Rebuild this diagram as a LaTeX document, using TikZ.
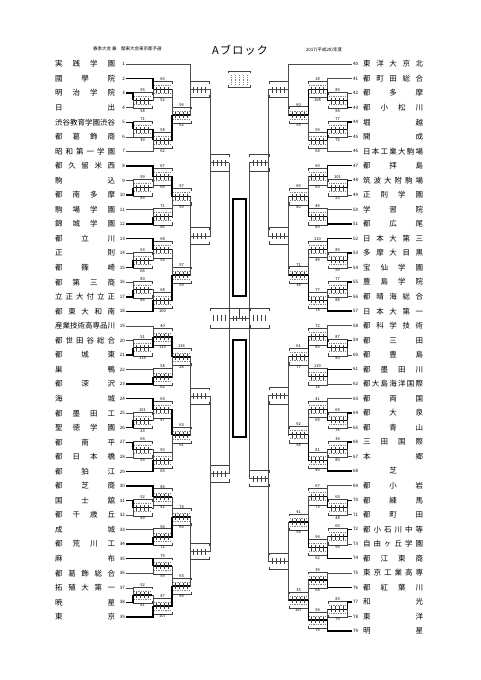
\documentclass[tikz,border=0pt]{standalone}
\usepackage{fontspec}
\setmainfont{Noto Sans CJK JP}
\usetikzlibrary{calc,positioning}

% spread the characters of a school name over a fixed width
\def\spreadloop#1{\ifx#1\relax\else\hfill#1\expandafter\spreadloop\fi}
\def\spreadfirst#1{#1\spreadloop}
\newcommand\spreadname[1]{\makebox[60pt][s]{\expandafter\spreadfirst#1\relax}}

% one score box: name, position, upper number, lower number, played (0/1/2)
\newcommand\gamebox[5]{%
  \node[game] (#1) at (#2) {};
  \draw[boxline] ([yshift=-2.5pt]#1.north west) -- (#1.north west) -- (#1.north east) -- ([yshift=-2.5pt]#1.north east);
  \draw[boxline] ([yshift=2.5pt]#1.south west) -- (#1.south west) -- (#1.south east) -- ([yshift=2.5pt]#1.south east);
  \ifnum#5>0
    \draw[win] (#1.west) -- (#1.east);
    \draw[scoredots] ([shift={(1.5pt,4pt)}]#1.west) -- ([shift={(-1.5pt,4pt)}]#1.east);
    \draw[scoredots] ([shift={(1.5pt,-4pt)}]#1.west) -- ([shift={(-1.5pt,-4pt)}]#1.east);
  \else
    \draw[link] (#1.west) -- (#1.east);
  \fi
  \foreach \k in {0.2,0.4,0.6,0.8}
    \draw[boxline] ($(#1.south west)!\k!(#1.south east)+(0,5pt)$) -- ++(0,6pt);
  \node[gnum, above=0pt of #1] (#1t) {#3};
  \node[gnum, below=0pt of #1] (#1b) {#4};
}
% left side game: name, x of box centre, entrant 1, entrant 2, numbers, winner
\newcommand\lgame[7]{%
  \coordinate (#1m) at ($(#3.east)!.5!(#4.east)$);
  \gamebox{#1}{#2,0 |- #1m}{#5}{#6}{#7}
  \tikzset{ea/.style={link},eb/.style={link}}%
  \ifnum#7=1 \tikzset{ea/.style={win}}\fi
  \ifnum#7=2 \tikzset{eb/.style={win}}\fi
  \draw[ea] (#3.east) -| (#1.west);
  \draw[eb] (#4.east) -| (#1.west);
}
% right side game
\newcommand\rgame[7]{%
  \coordinate (#1m) at ($(#3.west)!.5!(#4.west)$);
  \gamebox{#1}{#2,0 |- #1m}{#5}{#6}{#7}
  \tikzset{ea/.style={link},eb/.style={link}}%
  \ifnum#7=1 \tikzset{ea/.style={win}}\fi
  \ifnum#7=2 \tikzset{eb/.style={win}}\fi
  \draw[ea] (#3.west) -| (#1.east);
  \draw[eb] (#4.west) -| (#1.east);
}

\begin{document}
\begin{tikzpicture}[x=1pt,y=-1pt,
  tname/.style={anchor=west,inner sep=0pt,font=\fontsize{7.5}{8}\selectfont},
  tnum/.style={inner sep=1pt,font=\fontsize{4.5}{5}\selectfont},
  game/.style={rectangle,minimum width=19pt,minimum height=16pt,inner sep=0pt},
  boxline/.style={line width=.4pt,black!75},
  scoredots/.style={gray,line width=.6pt,dash pattern=on .6pt off 1.1pt},
  gnum/.style={inner sep=.4pt,font=\fontsize{4}{4}\selectfont},
  link/.style={line width=.5pt,black!70},
  win/.style={line width=1.4pt},
  tiny/.style={inner sep=0pt,font=\fontsize{4.5}{5}\selectfont}
]
\useasboundingbox (0,0) rectangle (481,680);

% titles
\node[tiny, anchor=west] (subtitle) at (93,49) {春季大会 兼\quad 関東大会東京都予選};
\node[inner sep=0pt, font=\fontsize{11}{12}\selectfont] (block) at (240,50)
  {\makebox[56pt][s]{A\hfill ブ\hfill ロ\hfill ッ\hfill ク}};
\node[tiny] (year) at (324,50) {2017(平成29)年度};

% left teams
\foreach \i/\nm in {1/実践学園,2/國學院,3/明治学院,4/日出,5/渋谷教育学園渋谷,6/都葛飾商,
  7/昭和第一学園,8/都久留米西,9/駒込,10/都南多摩,11/駒場学園,12/錦城学園,13/都立川,
  14/正則,15/都篠崎,16/都第三商,17/立正大付立正,18/都東大和南,19/産業技術高専品川,
  20/都世田谷総合,21/都城東,22/巣鴨,23/都深沢,24/海城,25/都墨田工,26/聖徳学園,
  27/都南平,28/都日本橋,29/都狛江,30/都芝商,31/国士舘,32/都千歳丘,33/成城,
  34/都荒川工,35/麻布,36/都葛飾総合,37/拓殖大第一,38/暁星,39/東京}{
  \node[tname] (L\i) at (55,{64+(\i-1)*14.55}) {\spreadname{\nm}};
  \node[tnum, anchor=east] (n\i) at (126,{64+(\i-1)*14.55}) {\i};
}
% right teams
\foreach \i/\nm in {40/東洋大京北,41/都町田総合,42/都多摩,43/都小松川,44/堀越,45/開成,
  46/日本工業大駒場,47/都拝島,48/筑波大附駒場,49/正則学園,50/学習院,51/都広尾,
  52/日本大第三,53/多摩大目黒,54/宝仙学園,55/豊島学院,56/都晴海総合,57/日本大第一,
  58/都科学技術,59/都三田,60/都豊島,61/都墨田川,62/都大島海洋国際,63/都両国,
  64/都大泉,65/都青山,66/三田国際,67/本郷,68/\null 芝\null,69/都小岩,70/都練馬,71/都町田,
  72/都小石川中等,73/自由ヶ丘学園,74/都江東商,75/東京工業高専,76/都紅葉川,77/和光,
  78/東洋,79/明星}{
  \node[tname] (R\i) at (363,{64+(\i-40)*14.54}) {\spreadname{\nm}};
  \node[tnum, anchor=west] (n\i) at (352,{64+(\i-40)*14.54}) {\i};
}

% left, teams 1-18
\lgame{g1}{142.5}{n3}{n4}{95}{58}{1}
\lgame{g2}{142.5}{n5}{n6}{71}{39}{1}
\lgame{g3}{162.5}{n2}{g1}{60}{52}{1}
\lgame{g4}{162.5}{g2}{n7}{58}{62}{1}
\lgame{g5}{181.5}{g3}{g4}{56}{62}{2}
\lgame{g6}{199.5}{n1}{g5}{}{}{0}
\lgame{g7}{142.5}{n9}{n10}{59}{83}{2}
\lgame{g8}{162.5}{n8}{g7}{67}{66}{1}
\lgame{g9}{162.5}{n11}{n12}{71}{86}{2}
\lgame{g10}{181.5}{g8}{g9}{57}{59}{1}
\lgame{g11}{142.5}{n14}{n15}{63}{66}{2}
\lgame{g12}{162.5}{n13}{g11}{68}{55}{1}
\lgame{g13}{142.5}{n16}{n17}{80}{86}{2}
\lgame{g14}{162.5}{g13}{n18}{68}{100}{2}
\lgame{g15}{181.5}{g12}{g14}{57}{59}{2}
\lgame{g16}{199.5}{g10}{g15}{}{}{0}
\lgame{g17}{219.5}{g6}{g16}{}{}{0}
% left, teams 19-39
\lgame{g18}{142.5}{n20}{n21}{51}{118}{2}
\lgame{g19}{162.5}{n19}{g18}{40}{119}{2}
\lgame{g20}{162.5}{n22}{n23}{58}{62}{2}
\lgame{g21}{181.5}{g19}{g20}{116}{28}{1}
\lgame{g22}{142.5}{n25}{n26}{101}{23}{2}
\lgame{g23}{162.5}{n24}{g22}{63}{47}{1}
\lgame{g24}{142.5}{n27}{n28}{64}{55}{1}
\lgame{g25}{162.5}{g24}{n29}{50}{65}{2}
\lgame{g26}{181.5}{g23}{g25}{63}{61}{1}
\lgame{g27}{199.5}{g21}{g26}{}{}{0}
\lgame{g28}{142.5}{n31}{n32}{52}{49}{1}
\lgame{g29}{162.5}{n30}{g28}{84}{42}{1}
\lgame{g30}{162.5}{n33}{n34}{54}{72}{2}
\lgame{g31}{181.5}{g29}{g30}{74}{65}{2}
\lgame{g32}{162.5}{n35}{n36}{75}{59}{1}
\lgame{g33}{142.5}{n37}{n38}{52}{81}{2}
\lgame{g34}{162.5}{g33}{n39}{47}{107}{2}
\lgame{g35}{181.5}{g32}{g34}{63}{94}{2}
\lgame{g36}{199.5}{g31}{g35}{}{}{0}
\lgame{g37}{219.5}{g27}{g36}{}{}{0}

% right, teams 40-57
\rgame{h1}{337.5}{n42}{n43}{85}{94}{2}
\rgame{h2}{337.5}{n44}{n45}{77}{75}{1}
\rgame{h3}{317.5}{n41}{h1}{18}{108}{2}
\rgame{h4}{317.5}{h2}{n46}{59}{64}{1}
\rgame{h5}{298.5}{h3}{h4}{60}{55}{1}
\rgame{h6}{278.5}{n40}{h5}{}{}{0}
\rgame{h7}{337.5}{n48}{n49}{101}{23}{1}
\rgame{h8}{317.5}{n47}{h7}{60}{63}{1}
\rgame{h9}{317.5}{n50}{n51}{49}{89}{2}
\rgame{h10}{298.5}{h8}{h9}{69}{80}{2}
\rgame{h11}{337.5}{n53}{n54}{85}{59}{1}
\rgame{h12}{317.5}{n52}{h11}{110}{49}{1}
\rgame{h13}{337.5}{n55}{n56}{77}{88}{1}
\rgame{h14}{317.5}{h13}{n57}{77}{78}{2}
\rgame{h15}{298.5}{h12}{h14}{71}{38}{2}
\rgame{h16}{278.5}{h10}{h15}{}{}{0}
\rgame{h17}{259}{h6}{h16}{}{}{0}
% right, teams 58-79
\rgame{h18}{337.5}{n59}{n60}{87}{80}{1}
\rgame{h19}{317.5}{n58}{h18}{72}{85}{2}
\rgame{h20}{317.5}{n61}{n62}{119}{18}{1}
\rgame{h21}{298.5}{h19}{h20}{61}{77}{1}
\rgame{h22}{337.5}{n64}{n65}{65}{76}{1}
\rgame{h23}{317.5}{n63}{h22}{41}{65}{2}
\rgame{h24}{337.5}{n66}{n67}{34}{80}{1}
\rgame{h25}{317.5}{h24}{n68}{81}{40}{2}
\rgame{h26}{298.5}{h23}{h25}{62}{58}{2}
\rgame{h27}{278.5}{h21}{h26}{}{}{0}
\rgame{h28}{337.5}{n70}{n71}{63}{48}{1}
\rgame{h29}{317.5}{n69}{h28}{67}{73}{2}
\rgame{h30}{337.5}{n72}{n73}{60}{95}{1}
\rgame{h31}{317.5}{h30}{n74}{94}{62}{2}
\rgame{h32}{298.5}{h29}{h31}{41}{54}{2}
\rgame{h33}{317.5}{n75}{n76}{39}{68}{2}
\rgame{h34}{337.5}{n77}{n78}{83}{79}{1}
\rgame{h35}{317.5}{h34}{n79}{54}{74}{2}
\rgame{h36}{298.5}{h33}{h35}{35}{107}{2}
\rgame{h37}{278.5}{h32}{h36}{}{}{0}
\rgame{h38}{259}{h27}{h37}{}{}{0}

% centre
\draw[link] (g17.east) -- (g37.east);
\draw[link] (h17.west) -- (h38.west);
\coordinate (cmid) at ($(g17.east)!.5!(g37.east)$);
\node[game, minimum height=19pt] (semiL) at (219.5,0 |- cmid) {};
\node[game, minimum width=20.5pt, minimum height=19pt] (final) at (239.25,0 |- cmid) {};
\node[game, minimum height=19pt] (semiR) at (259,0 |- cmid) {};
\foreach \b in {semiL,final,semiR}{
  \draw[boxline] ([yshift=-2.5pt]\b.north west) -- (\b.north west) -- (\b.north east) -- ([yshift=-2.5pt]\b.north east);
  \draw[boxline] ([yshift=2.5pt]\b.south west) -- (\b.south west) -- (\b.south east) -- ([yshift=2.5pt]\b.south east);
}
\foreach \b in {semiL,semiR}
  \foreach \k in {0.2,0.4,0.6,0.8}
    \draw[boxline] ($(\b.south west)!\k!(\b.south east)+(0,6.5pt)$) -- ++(0,6pt);
\draw[link] (final.west) -- (final.east);
\draw[boxline] (final.north) -- (final.center);
\foreach \k in {0.2,0.35,0.65,0.8}
  \draw[boxline] ($(final.south west)!\k!(final.south east)+(0,7pt)$) -- ++(0,5pt);
\node[draw, line width=1.3pt, minimum width=13pt, minimum height=97pt, inner sep=0pt] (upperbox) at (239.5,247.5) {};
\node[draw, line width=1.3pt, minimum width=13pt, minimum height=97pt, inner sep=0pt] (lowerbox) at (239.5,388.5) {};

% small key box at the top
\node[game, minimum width=22pt, minimum height=16pt] (keybox) at (239,79) {};
\draw[boxline] ([yshift=-2.5pt]keybox.north west) -- (keybox.north west) -- (keybox.north east) -- ([yshift=-2.5pt]keybox.north east);
\draw[boxline] ([yshift=2.5pt]keybox.south west) -- (keybox.south west) -- (keybox.south east) -- ([yshift=2.5pt]keybox.south east);
\foreach \k in {0.15,0.325,0.5,0.675,0.85}
  \draw[scoredots] ($(keybox.south west)!\k!(keybox.south east)+(0,3pt)$) -- ++(0,10pt);

\end{tikzpicture}
\end{document}
